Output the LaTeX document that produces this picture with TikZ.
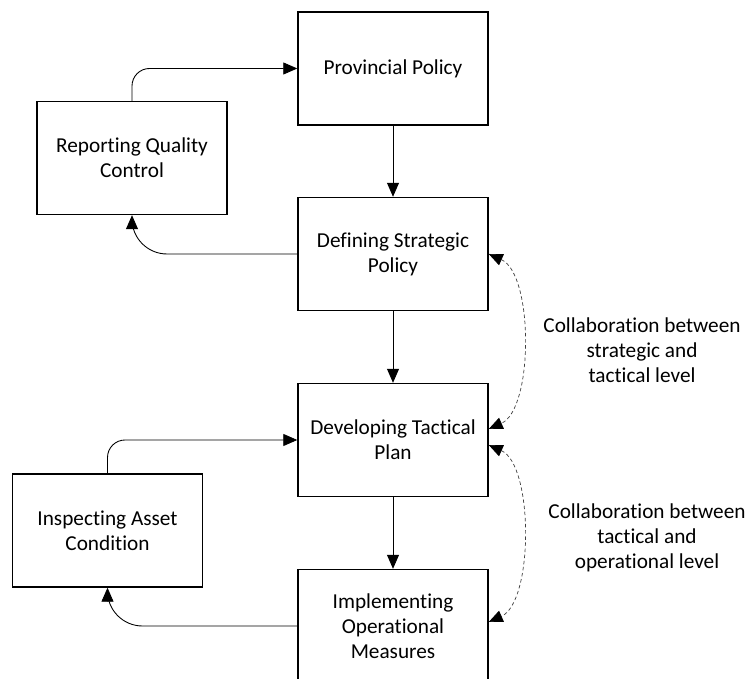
\documentclass[tikz,border=0pt]{standalone}
\usepackage{fontspec}
\setmainfont{Carlito}[Ligatures=NoCommon]
\usetikzlibrary{arrows.meta}

\begin{document}
\begin{tikzpicture}[
    box/.style={draw,line width=0.8pt,minimum width=3.8cm,minimum height=2.26cm,
        align=center,font=\fontsize{12.1}{14.2}\selectfont},
    flow/.style={line width=0.5pt,-{Triangle[length=0.28cm,width=0.24cm]}},
    collab/.style={line width=0.4pt,black!75,dash pattern=on 2pt off 1.5pt,
        {Triangle[length=0.28cm,width=0.24cm,color=black]}-{Triangle[length=0.28cm,width=0.24cm,color=black]}},
    note/.style={align=center,font=\fontsize{12.1}{14.2}\selectfont}]
    \useasboundingbox (0,0) rectangle (15.02,13.58);
    \clip (0,0) rectangle (15.02,13.58);

    % Main chain
    \node[box] (pp)  at (7.86,12.21) {Provincial Policy};
    \node[box] (dsp) at (7.86,8.5)   {Defining Strategic\\Policy};
    \node[box] (dtp) at (7.86,4.78)  {Developing Tactical\\Plan};
    \node[box] (iom) at (7.86,1.06)  {Implementing\\Operational\\Measures};

    % Feedback boxes
    \node[box] (rqc) at (2.64,10.42) {Reporting Quality\\Control};
    \node[box] (iac) at (2.15,2.97)  {Inspecting Asset\\Condition};

    \draw[flow] (pp.south) -- (dsp.north);
    \draw[flow] (dsp.south) -- (dtp.north);
    \draw[flow] (dtp.south) -- (iom.north);

    % Loops on the left
    \draw[flow,rounded corners=0.35cm] (rqc.north) |- (pp.west);
    \draw[flow,rounded corners=0.7cm] (dsp.west) -| (rqc.south);
    \draw[flow,rounded corners=0.35cm] (iac.north) |- (dtp.west);
    \draw[flow,rounded corners=0.7cm] (iom.west) -| (iac.south);

    % Collaboration between levels
    \draw[collab] (dsp.east) .. controls +(0.9,-0.4) and +(0.9,0.4) .. ([yshift=0.22cm]dtp.east);
    \draw[collab] ([yshift=-0.1cm]dtp.east) .. controls +(0.9,-0.4) and +(0.9,0.4) .. ([yshift=0.08cm]iom.east);
    \node[note] (lst) at (12.84,6.58) {Collaboration between\\strategic and\\tactical level};
    \node[note] (lto) at (12.94,2.82) {Collaboration between\\tactical and\\operational level};
\end{tikzpicture}
\end{document}
